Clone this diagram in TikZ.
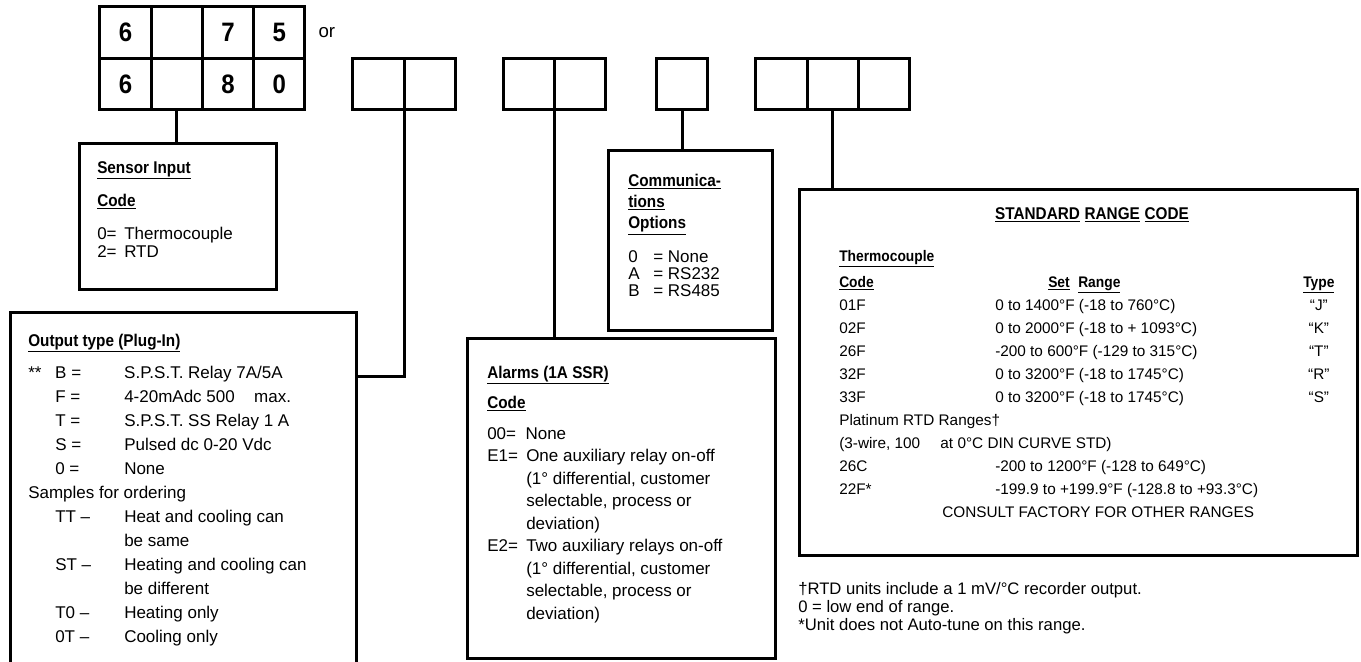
\documentclass[tikz,border=0pt]{standalone}
\usepackage{fontspec}
\setmainfont{Liberation Sans}[BoldFeatures={FakeStretch=0.9}]
\usetikzlibrary{positioning, calc}
\setlength{\tabcolsep}{0pt}
\tikzset{
  cell/.style={rectangle, draw=black, line width=2.25pt, outer sep=0pt, inner sep=0pt, minimum width=38.44pt, minimum height=38.6pt, font=\fontsize{20}{24}\selectfont\bfseries},
  panel/.style={rectangle, draw=black, line width=2.25pt, outer sep=0pt, inner sep=0pt, anchor=north west},
  wire/.style={line width=2.25pt},
  txt/.style={anchor=base west, inner sep=0pt, font=\fontsize{12.75}{18}\selectfont},
  rtxt/.style={anchor=base west, inner sep=0pt, font=\fontsize{11.5}{17.3}\selectfont},
}
\newcommand{\hd}[1]{\underline{\textbf{#1}}}

\begin{document}
\begin{tikzpicture}[x=0.75pt, y=-0.75pt]
\useasboundingbox (0,0) rectangle (1361,661);
\clip (0,0) rectangle (1361,661);

% model number
\node[cell] (m1) at (125.6,32.5) {6};
\node[cell, right=0pt of m1] (m2) {};
\node[cell, right=0pt of m2] (m3) {7};
\node[cell, right=0pt of m3] (m4) {5};
\node[cell, below=0pt of m1] (n1) {6};
\node[cell, right=0pt of n1] (n2) {};
\node[cell, right=0pt of n2] (n3) {8};
\node[cell, right=0pt of n3] (n4) {0};
\node[inner sep=0pt, font=\fontsize{14}{16}\selectfont, right=10pt of m4] (or) {or};

% option code cells
\node[cell] (a1) at (378.5,84) {};
\node[cell, right=0pt of a1] (a2) {};
\node[cell] (b1) at (529,84) {};
\node[cell, right=0pt of b1] (b2) {};
\node[cell] (c1) at (682,84) {};
\node[cell] (d1) at (781.5,84) {};
\node[cell, right=0pt of d1] (d2) {};
\node[cell, right=0pt of d2] (d3) {};

% panels
\node[panel, minimum width=147.75pt, minimum height=109.5pt] (sensor) at (79,143) {};
\node[panel, minimum width=259.5pt, minimum height=270pt] (output) at (10,312) {};
\node[panel, minimum width=231pt, minimum height=240pt] (alarms) at (467,338) {};
\node[panel, minimum width=123pt, minimum height=135pt] (comms) at (608,150) {};
\node[panel, minimum width=418.5pt, minimum height=274.5pt] (range) at (799,189) {};

\draw[wire] (n2.south) -- (n2.south |- sensor.north);
\draw[wire] (a1.south east) |- ($(output.north east)+(0,64)$);
\draw[wire] (b1.south east) -- (b1.south east |- alarms.north);
\draw[wire] (c1.south) -- (c1.south |- comms.north);
\draw[wire] (d2.south) -- (d2.south |- range.north);

% panel texts
\node[txt, font=\fontsize{12.75}{13.5}\selectfont] (sensortxt) at (97,173) {\begin{tabular}[t]{@{}p{20.25pt}l@{}}
\multicolumn{2}{@{}l}{\hd{Sensor Input}}\\[11.25pt]
\multicolumn{2}{@{}l}{\hd{Code}}\\[11.25pt]
0= & Thermocouple\\
2= & RTD
\end{tabular}};

\node[txt] (outputtxt) at (28,346) {\begin{tabular}[t]{@{}p{20.25pt}p{51.75pt}l@{}}
\multicolumn{3}{@{}l}{\hd{Output type (Plug-In)}}\\[6pt]
** & B = & S.P.S.T. Relay 7A/5A\\
 & F = & 4-20mAdc 500\hspace{11pt} max.\\
 & T = & S.P.S.T. SS Relay 1 A\\
 & S = & Pulsed dc 0-20 Vdc\\
 & 0 = & None\\
\multicolumn{3}{@{}l}{Samples for ordering}\\
 & TT -- & Heat and cooling can\\
 & & be same\\
 & ST -- & Heating and cooling can\\
 & & be different\\
 & T0 -- & Heating only\\
 & 0T -- & Cooling only
\end{tabular}};

\node[txt, font=\fontsize{12.75}{16.9}\selectfont] (alarmstxt) at (487,378) {\begin{tabular}[t]{@{}p{29.25pt}l@{}}
\multicolumn{2}{@{}l}{\hd{Alarms (1A SSR)}}\\[5.6pt]
\multicolumn{2}{@{}l}{\hd{Code}}\\[6.35pt]
\multicolumn{2}{@{}l}{00=\ \ None}\\
E1= & One auxiliary relay on-off\\
 & (1° differential, customer\\
 & selectable, process or\\
 & deviation)\\
E2= & Two auxiliary relays on-off\\
 & (1° differential, customer\\
 & selectable, process or\\
 & deviation)
\end{tabular}};

\node[txt, font=\fontsize{12.75}{12.75}\selectfont] (commstxt) at (628,186) {\begin{tabular}[t]{@{}p{18.75pt}l@{}}
\multicolumn{2}{@{}l}{\hd{Communica-}}\\[3pt]
\multicolumn{2}{@{}l}{\hd{tions}}\\[3pt]
\multicolumn{2}{@{}l}{\hd{Options}}\\[12.75pt]
0 & = None\\
A & = RS232\\
B & = RS485
\end{tabular}};

\node[anchor=base, inner sep=0pt, font=\fontsize{12.75}{15}\selectfont] (rangetitle) at ($(range.north west)+(293,30)$) {\hd{STANDARD} \hd{RANGE} \hd{CODE}};

\node[rtxt] (rangetxt) at (839,261) {\begin{tabular}[t]{@{}p{117pt}p{231pt}c@{}}
\multicolumn{3}{@{}l}{\hd{Thermocouple}}\\[2.2pt]
\hd{Code} & \hspace*{39.75pt}\hd{Set}\ \ \hd{Range} & \hd{Type}\\
01F & 0 to 1400°F (-18 to 760°C) & “J”\\
02F & 0 to 2000°F (-18 to + 1093°C) & “K”\\
26F & -200 to 600°F (-129 to 315°C) & “T”\\
32F & 0 to 3200°F (-18 to 1745°C) & “R”\\
33F & 0 to 3200°F (-18 to 1745°C) & “S”\\
\multicolumn{3}{@{}l}{Platinum RTD Ranges†}\\
\multicolumn{3}{@{}l}{(3-wire, 100\hspace{12pt} at 0°C DIN CURVE STD)}\\
26C & -200 to 1200°F (-128 to 649°C) & \\
22F* & -199.9 to +199.9°F (-128.8 to +93.3°C) & \\
\multicolumn{3}{@{}l}{\hspace*{77.25pt}CONSULT FACTORY FOR OTHER RANGES}
\end{tabular}};

% footnotes
\node[rtxt, font=\fontsize{12.5}{13.5}\selectfont] (notes) at (798,594) {\begin{tabular}[t]{@{}l@{}}
†RTD units include a 1 mV/°C recorder output.\\
0 = low end of range.\\
{*}Unit does not Auto-tune on this range.
\end{tabular}};
\end{tikzpicture}
\end{document}
